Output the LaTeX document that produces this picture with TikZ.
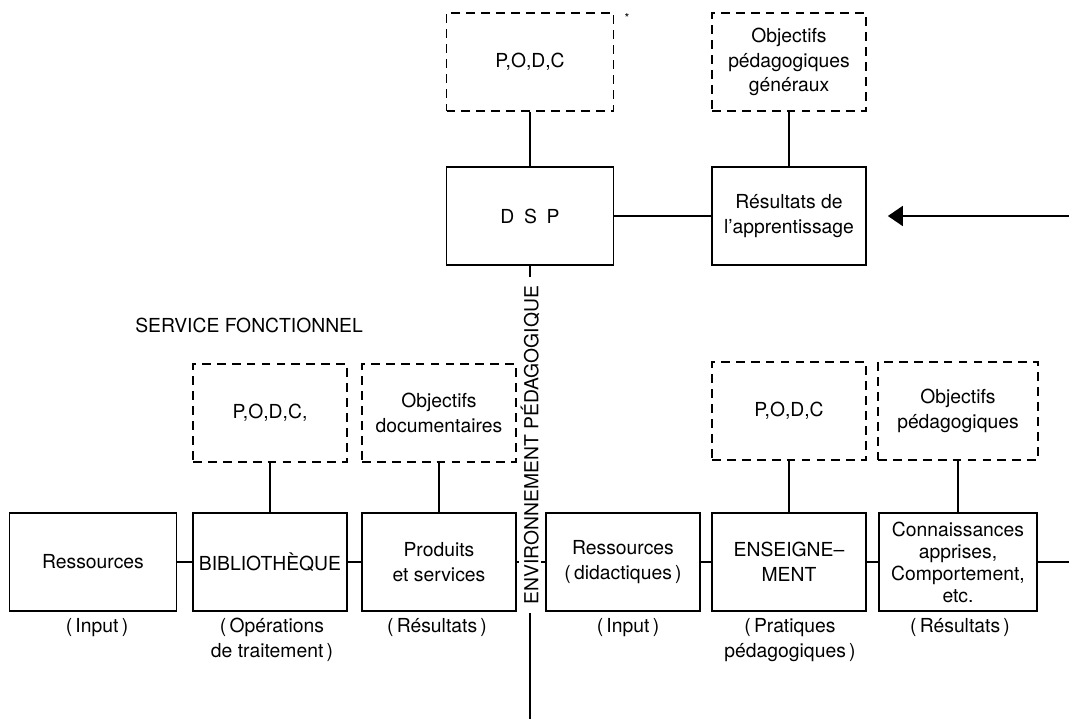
\documentclass[tikz,border=0pt]{standalone}
\usepackage{fontspec}
\setmainfont{TeX Gyre Heros}
\usetikzlibrary{arrows.meta}
\tikzset{
    bloc/.style={draw,line width=1pt,minimum width=3.08cm,minimum height=1.96cm,align=center,inner sep=1pt},
    tiret/.style={bloc,dash pattern=on 5pt off 3.5pt},
    legende/.style={align=center,inner sep=0pt},
    lien/.style={line width=1pt}
}

\begin{document}
\begin{tikzpicture}[x=0.02cm,y=-0.02cm,font=\fontsize{11}{14}\selectfont]
            \useasboundingbox (0,0) rectangle (1069,719);
            \node [tiret,minimum width=3.34cm] (podc) at (530,62) {P,O,D,C};
            \node [tiret] (objgen) at (789,62) {Objectifs\\pédagogiques\\généraux};
            \node [bloc,minimum width=3.34cm] (dsp) at (530,216) {D\enspace S\enspace P};
            \node [bloc] (resapp) at (789,216) {Résultats de\\l'apprentissage};
            \node [font=\scriptsize,inner sep=0pt] (etoile) at (627,18) {*};
            \node [legende,anchor=west] (service) at (135,325) {SERVICE FONCTIONNEL};
            \node [tiret] (podcbib) at (270,413) {P,O,D,C,};
            \node [tiret] (objdoc) at (439,413) {Objectifs\\documentaires};
            \node [bloc,minimum width=3.34cm] (ress) at (93,562) {Ressources};
            \node [bloc] (bib) at (270,562) {BIBLIOTHÈQUE};
            \node [bloc] (prod) at (439,562) {Produits\\et services};
            \node [tiret] (podcens) at (789,411) {P,O,D,C};
            \node [tiret,minimum width=3.2cm] (objped) at (958,411) {Objectifs\\pédagogiques};
            \node [bloc] (ressdid) at (623,562) {Ressources\\(\,didactiques\,)};
            \node [bloc] (ens) at (789,562) {ENSEIGNE--\\MENT};
            \node [bloc,minimum width=3.16cm,font=\fontsize{11}{12.5}\selectfont] (conn) at (958,562) {Connaissances\\apprises,\\Comportement,\\etc.};
            \node [legende] (inbib) at (97,628) {(\,Input\,)};
            \node [legende] (opbib) at (272,640) {(\,Opérations\\de traitement\,)};
            \node [legende] (resbib) at (437,628) {(\,Résultats\,)};
            \node [legende] (inens) at (628,628) {(\,Input\,)};
            \node [legende] (pratens) at (790,640) {(\,Pratiques\\pédagogiques\,)};
            \node [legende] (resens) at (960,628) {(\,Résultats\,)};
            \coordinate (bas) at (530,719);
            \coordinate (droite) at (1069,562);
            \coordinate (retour) at (1069,216);
            \foreach \a/\b in {podc/dsp,objgen/resapp,dsp/resapp,podcbib/bib,objdoc/prod,ress/bib,bib/prod,podcens/ens,objped/conn,ressdid/ens,ens/conn,conn/droite,prod/ressdid} {
                \draw [lien] (\a) -- (\b);
            }
            \draw [lien] (dsp) -- (bas);
            \draw [lien,-{Triangle[length=0.3cm,width=0.4cm]},shorten >=0.42cm] (retour) -- (resapp);
            \node [fill=white,rotate=90,inner xsep=5pt,inner ysep=1pt] (env) at (530,445) {ENVIRONNEMENT PÉDAGOGIQUE};
        \end{tikzpicture}
\end{document}
